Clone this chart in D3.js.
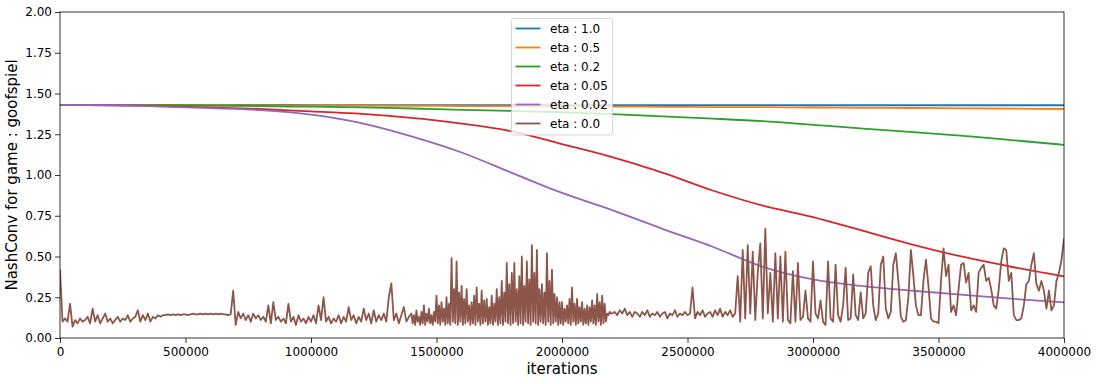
<!DOCTYPE html>
<head>
  <title>NashConv goofspiel</title>
  <meta charset="utf-8">
  <style>
    body { margin: 0; background: #ffffff; }
    text { font-family: 'DejaVu Sans', sans-serif; fill: #000000; }
    .axis path.domain { stroke: none; }
    .axis line { stroke: #000000; stroke-width: 0.8px; }
    .axis text { font-size: 12px; }
  </style>
</head>
<body>
  <script src="https://cdn.jsdelivr.net/npm/d3@7"></script>
  <script>
    // legend labels and colours (matplotlib tab10)
    var seriesNames = ["eta : 1.0", "eta : 0.5", "eta : 0.2", "eta : 0.05", "eta : 0.02", "eta : 0.0"];
    var seriesColors = ["#1f77b4", "#ff7f0e", "#2ca02c", "#d62728", "#9467bd", "#8c564b"];

    var xTicks = [0, 500000, 1000000, 1500000, 2000000, 2500000, 3000000, 3500000, 4000000];
    var yTicks = [0, 0.25, 0.5, 0.75, 1.0, 1.25, 1.5, 1.75, 2.0];

    // smooth curves, read every 200000 iterations
    var smoothIters = [0, 200000, 400000, 600000, 800000, 1000000, 1200000, 1400000, 1600000, 1800000, 2000000,
      2200000, 2400000, 2600000, 2800000, 3000000, 3200000, 3400000, 3600000, 3800000, 4000000];
    var eta10 = [1.430, 1.430, 1.430, 1.430, 1.430, 1.429, 1.429, 1.429, 1.429, 1.429, 1.429,
      1.429, 1.429, 1.429, 1.429, 1.428, 1.428, 1.428, 1.428, 1.428, 1.428];
    var eta05 = [1.430, 1.429, 1.428, 1.428, 1.427, 1.426, 1.425, 1.424, 1.423, 1.422, 1.421,
      1.420, 1.418, 1.417, 1.416, 1.414, 1.412, 1.411, 1.409, 1.407, 1.405];
    var eta02 = [1.430, 1.429, 1.428, 1.425, 1.422, 1.419, 1.415, 1.408, 1.400, 1.393, 1.385,
      1.373, 1.360, 1.346, 1.330, 1.308, 1.285, 1.263, 1.240, 1.213, 1.185];
    var eta005 = [1.430, 1.428, 1.423, 1.415, 1.405, 1.390, 1.375, 1.350, 1.315, 1.268, 1.190,
      1.110, 1.015, 0.905, 0.812, 0.742, 0.657, 0.572, 0.497, 0.434, 0.378];
    var eta002 = [1.430, 1.428, 1.420, 1.410, 1.398, 1.370, 1.318, 1.237, 1.138, 1.013, 0.890,
      0.785, 0.670, 0.560, 0.437, 0.360, 0.318, 0.290, 0.264, 0.240, 0.219];

    // eta 0.0 is noisy: 0 .. 1390000 every 10000
    var eta00EarlyStart = 0, eta00EarlyStep = 10000;
    var eta00Early = [
      0.42, 0.10, 0.12, 0.10, 0.21, 0.07, 0.11, 0.09, 0.12, 0.10,
      0.11, 0.13, 0.09, 0.18, 0.10, 0.14, 0.09, 0.12, 0.15, 0.10,
      0.12, 0.09, 0.11, 0.13, 0.10, 0.12, 0.11, 0.14, 0.10, 0.12,
      0.13, 0.17, 0.10, 0.14, 0.11, 0.15, 0.10, 0.13, 0.12, 0.14,
      0.13, 0.14, 0.14, 0.145, 0.14, 0.145, 0.14, 0.145, 0.14, 0.145,
      0.145, 0.14, 0.145, 0.15, 0.145, 0.145, 0.15, 0.145, 0.15, 0.145,
      0.15, 0.145, 0.15, 0.145, 0.15, 0.145, 0.145, 0.14, 0.145, 0.29,
      0.08, 0.16, 0.12, 0.15, 0.11, 0.14, 0.10, 0.15, 0.12, 0.14,
      0.11, 0.13, 0.10, 0.20, 0.09, 0.22, 0.11, 0.13, 0.10, 0.12,
      0.09, 0.21, 0.10, 0.13, 0.08, 0.14, 0.10, 0.12, 0.09, 0.13,
      0.10, 0.14, 0.09, 0.20, 0.11, 0.25, 0.10, 0.13, 0.09, 0.12,
      0.10, 0.14, 0.09, 0.13, 0.10, 0.19, 0.11, 0.14, 0.09, 0.13,
      0.10, 0.18, 0.11, 0.15, 0.09, 0.17, 0.10, 0.14, 0.11, 0.15,
      0.10, 0.25, 0.335, 0.11, 0.15, 0.09, 0.14, 0.19, 0.10, 0.13
    ];
    // 1400000 .. 2195000 every 5000 (the dense band)
    var eta00DenseStart = 1400000, eta00DenseStep = 5000;
    var eta00Dense = [
      0.15, 0.09, 0.14, 0.08, 0.17, 0.10, 0.13, 0.08, 0.16, 0.09, 0.20, 0.08, 0.15, 0.10, 0.18, 0.09, 0.14, 0.08, 0.16, 0.10,
      0.26, 0.09, 0.20, 0.08, 0.22, 0.10, 0.18, 0.08, 0.25, 0.09, 0.21, 0.08, 0.49, 0.10, 0.30, 0.09, 0.47, 0.08, 0.28, 0.10,
      0.32, 0.08, 0.24, 0.09, 0.30, 0.10, 0.20, 0.08, 0.22, 0.09, 0.26, 0.08, 0.31, 0.10, 0.21, 0.08, 0.29, 0.09, 0.23, 0.10,
      0.24, 0.08, 0.19, 0.09, 0.26, 0.08, 0.21, 0.10, 0.30, 0.08, 0.25, 0.09, 0.35, 0.08, 0.28, 0.10, 0.46, 0.09, 0.33, 0.08,
      0.40, 0.09, 0.46, 0.10, 0.30, 0.08, 0.38, 0.09, 0.50, 0.08, 0.32, 0.10, 0.47, 0.09, 0.36, 0.08, 0.57, 0.10, 0.40, 0.09,
      0.54, 0.08, 0.30, 0.10, 0.33, 0.09, 0.28, 0.08, 0.52, 0.10, 0.35, 0.08, 0.42, 0.09, 0.27, 0.10, 0.25, 0.08, 0.22, 0.09,
      0.22, 0.08, 0.18, 0.10, 0.20, 0.09, 0.24, 0.08, 0.31, 0.10, 0.21, 0.08, 0.24, 0.09, 0.19, 0.10, 0.22, 0.08, 0.18, 0.09,
      0.20, 0.08, 0.19, 0.10, 0.23, 0.09, 0.20, 0.08, 0.27, 0.10, 0.22, 0.08, 0.26, 0.09, 0.21, 0.10, 0.15, 0.14, 0.16, 0.15
    ];
    // 2200000 .. 4000000 every 10000
    var eta00LateStart = 2200000, eta00LateStep = 10000;
    var eta00Late = [
      0.15, 0.16, 0.14, 0.17, 0.15, 0.18, 0.14, 0.16, 0.13, 0.16,
      0.15, 0.13, 0.16, 0.14, 0.17, 0.13, 0.15, 0.14, 0.16, 0.13,
      0.15, 0.16, 0.12, 0.15, 0.14, 0.17, 0.13, 0.15, 0.14, 0.16,
      0.14, 0.15, 0.31, 0.12, 0.16, 0.14, 0.17, 0.13, 0.15, 0.16,
      0.13, 0.17, 0.14, 0.18, 0.13, 0.16, 0.14, 0.17, 0.13, 0.15,
      0.38, 0.10, 0.54, 0.12, 0.57, 0.15, 0.53, 0.11, 0.40, 0.58,
      0.12, 0.67, 0.15, 0.40, 0.10, 0.52, 0.12, 0.50, 0.10, 0.53,
      0.11, 0.09, 0.41, 0.10, 0.46, 0.11, 0.13, 0.29, 0.12, 0.10,
      0.47, 0.15, 0.12, 0.23, 0.10, 0.08, 0.47, 0.12, 0.10, 0.45,
      0.14, 0.10, 0.20, 0.43, 0.11, 0.12, 0.39, 0.14, 0.11, 0.28,
      0.12, 0.15, 0.40, 0.44, 0.20, 0.11, 0.15, 0.45, 0.50, 0.18,
      0.12, 0.16, 0.45, 0.52, 0.35, 0.13, 0.10, 0.11, 0.25, 0.54,
      0.38, 0.20, 0.14, 0.14, 0.35, 0.48, 0.32, 0.12, 0.10, 0.10,
      0.09, 0.35, 0.55, 0.38, 0.45, 0.16, 0.20, 0.14, 0.30, 0.45,
      0.46, 0.34, 0.40, 0.17, 0.20, 0.16, 0.40, 0.43, 0.45, 0.35,
      0.37, 0.30, 0.20, 0.18, 0.30, 0.47, 0.55, 0.54, 0.35, 0.40,
      0.14, 0.11, 0.11, 0.12, 0.20, 0.33, 0.35, 0.45, 0.52, 0.33,
      0.29, 0.35, 0.29, 0.18, 0.29, 0.17, 0.20, 0.35, 0.40, 0.48,
      0.61
    ];

    var W = 1098, H = 384;
    var margin = { top: 12, right: 34, bottom: 46, left: 60 },
      width = W - margin.left - margin.right,
      height = H - margin.top - margin.bottom;

    var x = d3.scaleLinear().domain([0, 4000000]).range([0, width]);
    var y = d3.scaleLinear().domain([0, 2]).range([height, 0]);

    var svg = d3.select("body").append("svg")
      .attr("width", W)
      .attr("height", H);

    var g = svg.append("g")
      .attr("transform", "translate(" + margin.left + "," + margin.top + ")");

    g.append("defs").append("clipPath").attr("id", "plotClip")
      .append("rect").attr("width", width).attr("height", height);

    //build one table per series
    var smoothSeries = [eta10, eta05, eta02, eta005, eta002].map(function (vals) {
      return vals.map(function (v, i) { return [smoothIters[i], v]; });
    });

    function toPoints(vals, start, step) {
      return vals.map(function (v, i) { return [start + i * step, v]; });
    }
    var noisySeries = toPoints(eta00Early, eta00EarlyStart, eta00EarlyStep)
      .concat(toPoints(eta00Dense, eta00DenseStart, eta00DenseStep))
      .concat(toPoints(eta00Late, eta00LateStart, eta00LateStep));

    var smoothLine = d3.line()
      .x(function (d) { return x(d[0]); })
      .y(function (d) { return y(d[1]); })
      .curve(d3.curveMonotoneX);

    var rawLine = d3.line()
      .x(function (d) { return x(d[0]); })
      .y(function (d) { return y(d[1]); });

    var plot = g.append("g").attr("clip-path", "url(#plotClip)");

    smoothSeries.forEach(function (s, i) {
      plot.append("path")
        .datum(s)
        .attr("fill", "none")
        .attr("stroke", seriesColors[i])
        .attr("stroke-width", 1.8)
        .attr("d", smoothLine);
    });

    plot.append("path")
      .datum(noisySeries)
      .attr("fill", "none")
      .attr("stroke", seriesColors[5])
      .attr("stroke-width", 1.8)
      .attr("stroke-linejoin", "round")
      .attr("d", rawLine);

    //axes
    g.append("g")
      .attr("class", "axis")
      .attr("transform", "translate(0," + height + ")")
      .call(d3.axisBottom(x).tickValues(xTicks).tickFormat(d3.format("d")).tickSize(5).tickPadding(4).tickSizeOuter(0));

    g.append("g")
      .attr("class", "axis")
      .call(d3.axisLeft(y).tickValues(yTicks).tickFormat(d3.format(".2f")).tickSize(5).tickPadding(3).tickSizeOuter(0));

    //frame
    g.append("rect")
      .attr("width", width)
      .attr("height", height)
      .attr("fill", "none")
      .attr("stroke", "#000000")
      .attr("stroke-width", 0.8);

    //axis labels
    svg.append("text")
      .attr("x", margin.left + width / 2)
      .attr("y", 374)
      .attr("text-anchor", "middle")
      .style("font-size", "15px")
      .text("iterations");

    svg.append("text")
      .attr("transform", "translate(17," + (margin.top + height / 2) + ") rotate(-90)")
      .attr("text-anchor", "middle")
      .style("font-size", "15px")
      .text("NashConv for game : goofspiel");

    //legend
    var legend = svg.append("g").attr("transform", "translate(511.5,18.5)");
    legend.append("rect")
      .attr("width", 101)
      .attr("height", 116.5)
      .attr("rx", 2)
      .attr("fill", "#ffffff")
      .attr("fill-opacity", 0.8)
      .attr("stroke", "#cccccc")
      .attr("stroke-width", 0.8);

    seriesNames.forEach(function (name, i) {
      var row = legend.append("g").attr("transform", "translate(0," + (10 + i * 19) + ")");
      row.append("line")
        .attr("x1", 4).attr("x2", 29)
        .attr("stroke", seriesColors[i])
        .attr("stroke-width", 1.8);
      row.append("text")
        .attr("x", 38.5)
        .attr("dy", "0.35em")
        .style("font-size", "12px")
        .text(name);
    });
  </script>
</body>
